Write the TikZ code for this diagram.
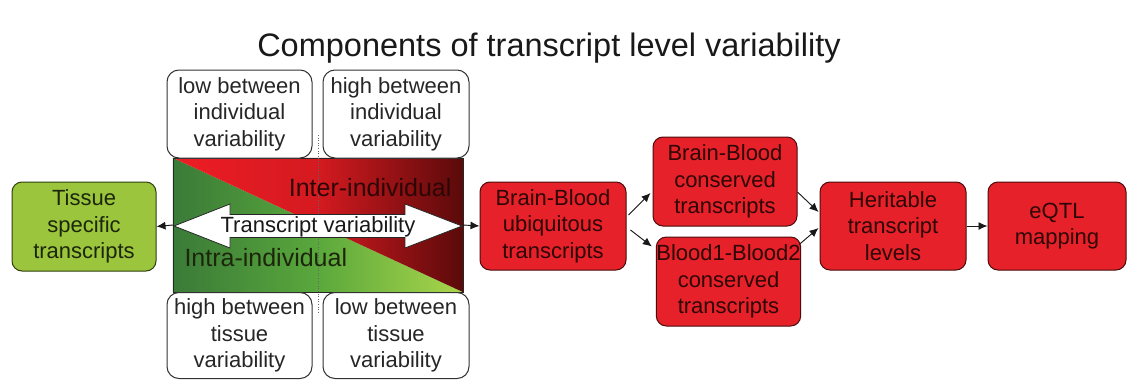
\documentclass[tikz,border=0pt]{standalone}
\usepackage{fontspec}
\setmainfont{Liberation Sans}
\usetikzlibrary{arrows.meta,calc}
\definecolor{boxred}{HTML}{E62129}
\definecolor{redborder}{HTML}{4A0C0C}
\definecolor{redtext}{HTML}{2E0606}
\definecolor{tissuegreen}{HTML}{9BC53C}
\definecolor{greenborder}{HTML}{2F3F10}
\definecolor{greentext}{HTML}{1C260A}
\definecolor{redL}{HTML}{EE1C25}
\definecolor{redM}{HTML}{D41A20}
\definecolor{redR}{HTML}{5A0A0A}
\definecolor{grnL}{HTML}{3A7A38}
\definecolor{grnM}{HTML}{5AA83C}
\definecolor{grnR}{HTML}{AAD64A}
\tikzset{
  boxbase/.style={rounded corners=10pt, line width=1pt, align=center, inner sep=0pt,
    font=\fontsize{22}{26.5}\selectfont},
  redbox/.style={boxbase, fill=boxred, draw=redborder, text=redtext},
  greenbox/.style={boxbase, fill=tissuegreen, draw=greenborder, text=greentext},
  whitebox/.style={boxbase, fill=white, draw=black!80, text=black!85, rounded corners=12pt},
  arr/.style={-{Latex[length=9pt,width=8pt]}, line width=0.9pt, draw=black!90, fill=black!90},
}
\begin{document}
\begin{tikzpicture}[x=1pt,y=-1pt]
\useasboundingbox (0,0) rectangle (1128,380);
\fill[white] (0,0) rectangle (1128,380);

% title
\node[anchor=base, font=\fontsize{32.5}{36}\selectfont, text=black!90] (title) at (549,56) {Components of transcript level variability};

% gradient rectangle
\node[minimum width=290pt, minimum height=134pt, inner sep=0pt] (grad) at (318,225) {};
\shade[left color=grnL, right color=grnR, middle color=grnM] (grad.north west) -- (grad.south east) -- (grad.south west) -- cycle;
\shade[left color=redL, right color=redR, middle color=redM] (grad.north west) -- (grad.north east) -- (grad.south east) -- cycle;
\draw[line width=0.6pt, draw=black!85] (grad.north west) rectangle (grad.south east);

% dotted divider
\coordinate (dtop) at (318,135);
\coordinate (dbot) at (318,313);
\draw[dotted, line width=0.6pt, draw=black!60] (dtop) -- (dbot);

% white boxes
\node[whitebox, minimum width=145pt, minimum height=88pt] (tl) at (239.5,114) {low between\\individual\\variability};
\node[whitebox, minimum width=146pt, minimum height=88pt] (tr) at (396,114) {high between\\individual\\variability};
\node[whitebox, minimum width=145pt, minimum height=86pt] (bl) at (239.5,335.5) {high between\\tissue\\variability};
\node[whitebox, minimum width=146pt, minimum height=86pt] (br) at (396,335.5) {low between\\tissue\\variability};

% double arrow
\coordinate (lt) at (174,226);
\coordinate (rt) at (462,226);
\path[fill=white, draw=black!85, line width=0.8pt]
  (lt) -- (230,204) -- (230,214.5) -- (405,214.5) -- (405,204) -- (rt)
  -- (405,248) -- (405,237.5) -- (230,237.5) -- (230,248) -- cycle;
\node[font=\fontsize{22}{26}\selectfont, text=black!90] (tv) at (318,227) {Transcript variability};
\node[font=\fontsize{25}{28}\selectfont, text=redtext, anchor=east] (inter) at (455,188) {Inter-individual};
\node[font=\fontsize{25}{28}\selectfont, text=greentext, anchor=west] (intra) at (181,258) {Intra-individual};

% flow boxes
\node[greenbox, minimum width=144pt, minimum height=89pt] (tissue) at (84,226.5) {Tissue\\specific\\transcripts};
\node[redbox, minimum width=146pt, minimum height=88pt] (ubi) at (553,226) {Brain-Blood\\ubiquitous\\transcripts};
\node[redbox, minimum width=144pt, minimum height=89pt] (bbc) at (725,181.5) {Brain-Blood\\conserved\\transcripts};
\node[redbox, minimum width=143pt, minimum height=89pt] (b12) at (728.5,281.5) {Blood1-Blood2\\conserved\\transcripts};
\node[redbox, minimum width=146pt, minimum height=88pt] (her) at (893,226) {Heritable\\transcript\\levels};
\node[redbox, minimum width=138pt, minimum height=88pt] (eqtl) at (1057,226) {eQTL\\mapping};

% connectors
\draw[arr] (grad.west) -- (tissue.east);
\draw[arr] (grad.east) -- (ubi.west);
\draw[arr] ($(ubi.east)+(2,-11)$) -- ($(bbc.west)+(-2,11.5)$);
\draw[arr] ($(ubi.east)+(4,4)$) -- ($(b12.north west)+(-4,10)$);
\draw[arr] ($(bbc.east)+(0,10.5)$) -- ($(her.west)+(-1,-14)$);
\draw[arr] ($(b12.north east)+(-2,8)$) -- ($(her.west)+(-1,2)$);
\draw[arr] (her.east) -- (eqtl.west);
\end{tikzpicture}
\end{document}
